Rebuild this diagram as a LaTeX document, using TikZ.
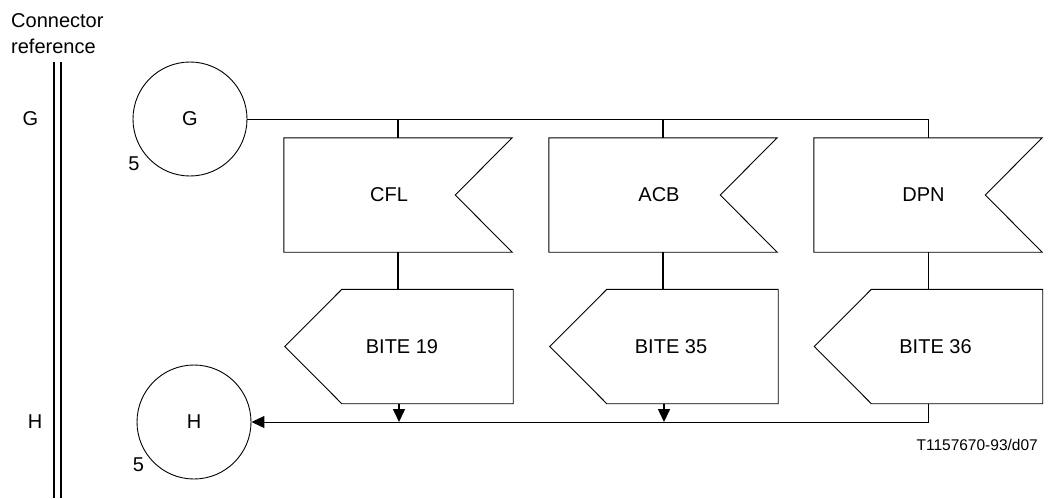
\documentclass[tikz,border=0pt]{standalone}
\usepackage{fontspec}
\setmainfont{Liberation Sans}
\usetikzlibrary{arrows.meta}
\tikzset{
  lbl/.style={font=\fontsize{20}{24}\selectfont, inner sep=0pt},
  small/.style={font=\fontsize{15.5}{18}\selectfont, inner sep=0pt},
  conn/.style={circle, draw, line width=0.9pt, minimum size=114pt, inner sep=0pt, font=\fontsize{20}{24}\selectfont},
  boxarea/.style={minimum width=228pt, minimum height=114pt, inner sep=0pt, draw=none},
  outline/.style={line width=0.9pt, line join=miter},
  vline/.style={line width=1.5pt},
  bus/.style={line width=1pt},
  tip/.style={-{Triangle[length=13pt,width=12pt]}},
}
\newcommand\NotchBox[5]{%
  \node[boxarea] (#1) at (#2,#3) {};
  \node[lbl] (#1-t) at ([xshift=#5pt]#1.center) {#4};
  \draw[outline] (#1.north west) -- (#1.north east) -- ([xshift=-57pt]#1.east)
     -- (#1.south east) -- (#1.south west) -- cycle;}
\newcommand\PointBox[5]{%
  \node[boxarea] (#1) at (#2,#3) {};
  \node[lbl] (#1-t) at ([xshift=#5pt]#1.center) {#4};
  \draw[outline] ([xshift=57pt]#1.north west) -- (#1.north east) -- (#1.south east)
     -- ([xshift=57pt]#1.south west) -- (#1.west) -- cycle;}
\begin{document}
\begin{tikzpicture}[x=1pt,y=-1pt]
\useasboundingbox (0,0) rectangle (1048,498);
% connector reference column
\node[lbl, anchor=base west] (cref1) at (11,27) {Connector};
\node[lbl, anchor=base west] (cref2) at (11,53.5) {reference};
\coordinate (d1t) at (54,62);
\coordinate (d1b) at (54,498);
\coordinate (d2t) at (61,62);
\coordinate (d2b) at (61,498);
\draw[line width=1.3pt] (d1t) -- (d1b);
\draw[line width=1.3pt] (d2t) -- (d2b);
\node[lbl] (refG) at (30.5,119) {G};
\node[lbl] (refH) at (35,422) {H};
% connectors
\node[conn] (g) at (190,119) {G};
\node[conn] (h) at (194,422) {H};
\node[lbl] (g5) at (134,163.5) {5};
\node[lbl] (h5) at (138.5,465) {5};
% boxes
\NotchBox{cfl}{398}{195}{CFL}{-9}
\NotchBox{acb}{663}{195}{ACB}{-4}
\NotchBox{dpn}{928}{195}{DPN}{-4.5}
\PointBox{biteA}{399}{346.5}{BITE 19}{3}
\PointBox{biteB}{664}{346.5}{BITE 35}{7}
\PointBox{biteC}{928.5}{346.5}{BITE 36}{7}
% G bus
\draw[bus] (g.east) -| (dpn.north);
\draw[vline] (cfl.north) -- (cfl.north |- g.east);
\draw[vline] (acb.north) -- (acb.north |- g.east);
% verticals between boxes
\draw[vline] (cfl.south) -- (cfl.south |- biteA.north);
\draw[vline] (acb.south) -- (acb.south |- biteB.north);
\draw[bus] (dpn.south) -- (dpn.south |- biteC.north);
% H bus
\draw[bus, tip] (biteC.south) |- (h.east);
\draw[vline, tip] (biteA.south) -- (biteA.south |- h.east);
\draw[vline, tip] (biteB.south) -- (biteB.south |- h.east);
\node[small, anchor=east] (tno) at (1038,445) {T1157670-93/d07};
\end{tikzpicture}
\end{document}
